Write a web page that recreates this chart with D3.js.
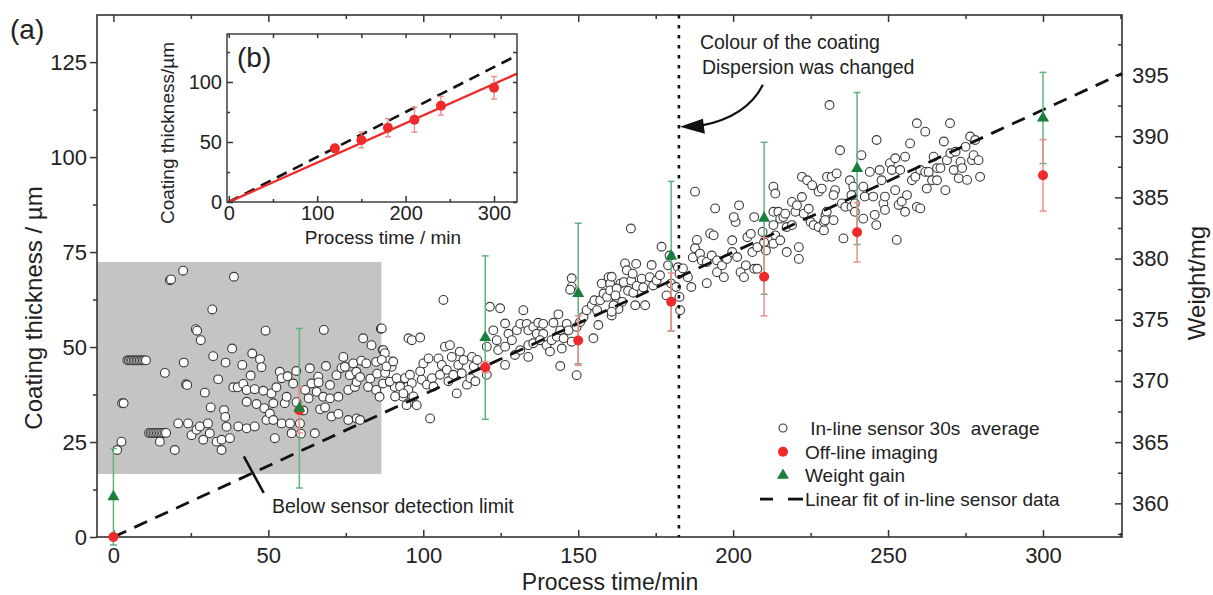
<!DOCTYPE html>
<html>
<head>
<meta charset="utf-8">
<script src="https://cdn.jsdelivr.net/npm/d3@7"></script>
<style>
body{margin:0;background:#fff;}
svg text{font-family:"Liberation Sans",Arial,Helvetica,sans-serif;}
</style>
</head>
<body>
<svg id="chart"></svg>
<script>
// in-line sensor, 30 s averages: [process time (min), coating thickness (um)]
var sensorPoints = [
  [1.2,22.9],[2.6,25.1],[2.8,35.2],[3.3,35.2],
  [4.5,46.5],[5,46.5],[5.5,46.5],[6,46.5],[6.5,46.5],[7,46.5],[7.5,46.5],[8,46.5],[8.5,46.5],[9,46.5],[9.5,46.5],[10,46.5],[10.5,46.5],
  [11.5,27.4],[12,27.4],[12.5,27.4],[13,27.4],[13.5,27.4],[14,27.4],[14.5,27.4],[15,27.4],[15.5,27.4],[16,27.4],[16.5,27.4],[17,27.4],
  [15,25.1],[16.6,43.2],[18.2,67.6],[18.6,67.8],[19.8,22.9],[20.9,29.9],[22.5,70.1],[22.7,45.9],[23.4,40.2],[23.8,40],
  [24.1,29.9],[25.2,26.8],[26.6,54.7],[27,54.3],[26.8,28.2],[27.9,29.1],[28.2,51.8],[29,25.6],[29.5,38],[30.5,29.9],
  [31.1,27.3],[31.4,34.1],[31.9,59.9],[32.2,47.6],[33.3,25.1],[33.8,41.5],[34.9,22.9],[34.9,25.6],[35.7,33.4],[36.1,31.6],
  [36.2,45.9],[36.5,29],[37.6,26],[38.3,49.6],[38.7,39.4],[38.9,68.5],[40.1,39.4],[40.3,29.1],[41.6,45.3],[41.9,40.3],
  [43,38.7],[43,35.6],[43,28.6],[44.3,42.5],[44.8,48.3],[45.6,38.9],[45.6,29.1],[46.2,35],[47.3,46.8],[47.8,44.7],
  [48.4,38.5],[48.7,33.9],[49.1,54.3],[49.4,30.8],[50.5,32.5],[51,37.8],[51.6,35.2],[51.6,30.8],[52.1,26],[52.6,39.4],
  [53.7,43.5],[54.3,41.8],[54.3,29.9],[55.3,35.2],[55.9,36.9],[56.2,42.3],[57,29.9],[57.5,27.3],[58,40.4],[59,43.7],
  [59.1,35.5],[60.2,29.9],[60.5,27.2],[61.3,33.3],[61.9,38.7],[63,36.5],[63.4,44.4],[63.9,40.4],[65,27.3],[65.6,38.2],
  [66.1,42.2],[66.2,40.7],[66.7,33.6],[67.7,36.9],[67.9,54.5],[68.3,34.1],[68.6,45],[69.9,40],[69.9,36.5],[70.4,31.7],
  [72,42.6],[72.6,36.9],[72.6,32.4],[73.6,44.5],[74.2,47.4],[74.7,44.8],[75.8,38.7],[75.8,30.8],[76.3,42.6],[77.4,45.7],
  [77.9,39.5],[78.4,43.5],[78.5,40.8],[78.5,31.2],[79.6,42.1],[79.6,30.8],[80,46.4],[80.6,52.3],[81.6,45.7],[82.2,39.5],
  [82.9,41.7],[83.3,50.5],[84.8,46.1],[84.8,38.7],[85.1,43],[85.9,36.9],[86.3,54.8],[86.9,49.2],[87,40.4],[87.7,43.2],
  [88.2,46.6],[89.2,40.8],[89.8,44.8],[90.8,39.5],[92.5,40.8],[93.5,36.9],[94.1,41.7],[95.1,35.2],[95.2,52.3],
  [86.6,54.9],[87.1,49.2],[87.6,48.4],[86.6,46.6],[88.1,44.9],[90.3,46.2],[89.2,40.9],[91.4,41.8],[92.5,39.6],[94.1,41.8],
  [95.7,42.7],[96.3,40.5],[95.2,38.7],[90.9,37],[93.6,37.8],[96.8,37],[94.6,34.7],[97.9,34.7],[102.2,31.2],[99,43.6],
  [100,45.7],[101.7,47],[99.5,41.4],[101.2,40.1],[102.8,41.8],[103.3,39.6],[104.9,47],[106,45.3],[105.4,42.7],[107,50.1],
  [108.6,50.5],[96.3,51.8],[99,52.5],[106.5,62.4],[107.6,44],[108.1,41],[109.7,42.7],[109.2,47.4],[111.8,48.8],[111.3,45.3],
  [113,46.6],[112.4,43.1],[110.8,37.8],[114.1,40.1],[115.2,41.8],[116.3,44.9],[115.7,47.4],[117.4,46.6],[116.8,41],[120.5,50.1],
  [120.5,42.7],[121.5,60.6],[124.8,60.2],[122.6,54.4],[123.7,51.8],[126.4,56.2],[124.2,49.2],[126.4,45.3],[126.4,50.1],[127.5,53.5],
  [128.6,51.8],[129.6,47.9],[130.2,54.4],[131.3,56.1],[132.3,59.7],[133.4,56.1],[133.9,54.4],[133.9,50.5],[131.3,49.2],[133.9,47.4],
  [135.5,55.3],[135.5,51],[136.6,53.5],[137.1,56.4],[138.7,56.1],[138.7,53.5],[137.7,51.8],[139.8,50.5],[140.9,48.8],[141.4,51.8],
  [142,56.4],[143.6,58.6],[143.1,52.7],[144.2,54.4],[144.7,49.6],[145.3,52.3],[144.2,45],[146.3,56.1],[146.9,54.4],[147.9,68.1],
  [147.9,65.9],[147.4,65.1],[147.9,51.4],[149.5,42.6],[149.5,55.3],[150.6,56.6],[151.7,57.9],[154.9,52.3],[156.5,55.8],[152.7,59.7],
  [154.4,61],[155.2,62.3],[156.1,59.7],[157.1,62.3],[158.2,64.1],[159.3,63.2],[157.6,66.7],[159.8,68.4],[160.3,66.7],[160.3,64.9],
  [161.4,60.5],[160.8,58.3],[163,60],[162.5,62.3],[163.6,66.7],
  [167,81.2],[160.8,68.5],[162.4,65.4],[162,63.6],[161.4,61],[160.8,59.3],[164.2,61.9],[165.1,72],[165.7,70.2],[164.7,67.1],
  [167.1,67.5],[167.6,69.3],[168.7,71.9],[166.1,64.8],[167.8,64.3],[168.9,66.1],[168.4,61],[170.5,68],[171,65.7],[171.6,61],
  [173.7,71.6],[173.1,68.4],[174.2,66.2],[175.3,67.5],[176.4,68.9],[176.9,76.4],[178.5,63.6],[179,71.5],[179.5,74.1],[180,66.7],
  [182.2,71],[182.7,69.3],[183.8,70.7],[181.6,65.8],[182.7,63.2],[182.9,59.7],[185.4,68.4],[186.5,65.8],[187,73.6],[188.3,78.2],
  [187.7,90.9],[187.7,76],[189.3,74.6],[189.9,72.8],[191.5,72.4],[191.5,66.8],[192.6,79.9],[193.7,79.4],[193.1,74.1],[194.8,72.8],
  [194.8,69.7],[196.4,71.5],[197,68.4],[194.2,86.5],[198,73.2],[199.7,75],[199.7,78.1],[200.8,82.9],[200.2,84.2],[201.9,87.3],
  [201.3,73.7],[202.4,69.7],[203.5,68.4],[204.1,71.5],[204.6,78.9],[205.7,79.8],[206.2,75],[206.8,70.6],[207.8,76.3],[207.8,70.6],
  [206.8,84.2],[209.5,80.3],[210,77.6],[210.6,75.4],[213,92.2],[213.6,90.4],[213,85.6],[214.6,85.6],[215.2,83.8],[213,82.1],
  [213.6,79.4],[213,77.2],[215.2,78.1],[216.2,84.2],[216.8,85.1],[217.3,81.6],[217.3,75],[219,82.1],[219,88.2],[220.1,85.6],
  [220.6,87.3],[221.2,76.3],[221.2,73.2],[222.2,89.5],[222.2,94.8],[223.9,93.9],[222.8,85.1],[224.4,86.4],[225,82.9],[226,82.1],
  [225.5,92.6],[227.6,90.9],[227.6,81.6],[229.3,82.9],[229.8,84.6],[230.3,94.8],[229.3,80.7],
  [231.1,113.7],[234.5,101.8],[231.8,94.8],[233.4,95.7],[232.9,91.3],[228.6,91.7],[230.2,85.6],[229.7,83.4],[232.4,83.4],[232.4,90],
  [235.1,87.8],[236.2,86.9],[237.7,93.9],[238.8,92.2],[238.2,90],[238.2,86.9],[239.3,87.8],[239.3,85.6],[241.4,100.5],[242,92.2],
  [242.5,89.6],[242,83.8],[244.1,96.1],[245.2,89.6],[245.7,84.8],[246.2,82.1],[246.3,104.5],[247.3,96.6],[247.9,93.9],[248.5,87.8],
  [249,86.1],[249,89.6],[250.6,98.4],[251.2,96.6],[252.3,99.7],[252.3,91.3],[253.4,87.4],[253.9,96.6],[254.4,88.3],[255.5,100.1],
  [255.5,85.6],[256.1,90],[257.1,103.6],[257.7,93.9],[258.8,94.8],[259.3,86.9],[260.4,86.5],[259.3,108.9],[262,106.7],[260.4,96.6],
  [262,96.1],[263.1,96.1],[262.5,91.7],[264.2,93.9],[264.7,100.1],[265.8,97.1],[266.9,97.1],[265.8,93.9],[268.5,91.3],[268,104.1],
  [270,108.9],[269,99.2],[270.1,101],[271.2,96.6],[271.8,101.4],[272.8,94.4],[273.4,98.8],[273.9,97.1],[275,102.7],[275.5,94],
  [276.5,105.4],[277.1,99.2],[277.6,100.5],[278.1,104.5],[279.2,99.2],[279.7,94.8],[252.8,78.2],[235.6,78.6]
];

// off-line imaging
var offTime  = [0, 60, 120, 150, 180, 210, 240, 300];
var offValue = [0, 33.4, 44.7, 51.7, 61.9, 68.5, 80.2, 95.2];
var offErr   = [0, 6, 1.5, 6.5, 7.6, 10.3, 7.8, 9.4];

// weight gain (plotted against the thickness scale)
var gainTime  = [0, 60, 120, 150, 180, 210, 240, 300];
var gainValue = [10.6, 33.9, 52.5, 64.1, 73.9, 83.9, 97, 110.3];
var gainErr   = [12.7, 21, 21.5, 18.5, 19.7, 20, 20, 12];

// linear fits, end points
var fitLine      = [[0, 0], [325.5, 122]];
var insetFitLine = [[0, 0], [326, 107]];

var changeTime = 182.5;
var detectTime  = [-5.3, 86.5];
var detectThick = [16.6, 72.4];

var xTicks = [0, 50, 100, 150, 200, 250, 300];
var xMinor = [25, 75, 125, 175, 225, 275, 325];
var yTicks = [0, 25, 50, 75, 100, 125];
var yMinor = [12.5, 37.5, 62.5, 87.5, 112.5];
var wTicks = [360, 365, 370, 375, 380, 385, 390, 395];
var wMinor = [357.5, 362.5, 367.5, 372.5, 377.5, 382.5, 387.5, 392.5, 397.5];
var insetXTicks = [0, 100, 200, 300];
var insetXMinor = [50, 150, 250];
var insetYTicks = [0, 50, 100];
var insetYMinor = [25, 75, 125];

var FONT = '"Liberation Sans", Arial, Helvetica, sans-serif';
var INK = "#222";
var RED = "#ee2a2a", RED_ERR = "#f08c8c";
var GREEN = "#1a7f3c", GREEN_ERR = "#62b37c";

var W = 1213, H = 595;
var margin = {top: 15, right: 91, bottom: 58, left: 97},
    width = W - margin.left - margin.right,
    height = H - margin.top - margin.bottom;

var svg = d3.select("#chart").attr("width", W).attr("height", H);
svg.append("rect").attr("width", W).attr("height", H).attr("fill", "#fff");

var g = svg.append("g")
    .attr("transform", "translate(" + margin.left + "," + margin.top + ")");

var x = d3.scaleLinear().domain([-5.3, 325.5]).range([0, width]);
var y = d3.scaleLinear().domain([0, 137.4]).range([height, 0]);
var yw = d3.scaleLinear().domain([357.25, 399.9]).range([height, 0]);

// grey box: below sensor detection limit
g.append("rect")
    .attr("x", x(detectTime[0]))
    .attr("y", y(detectThick[1]))
    .attr("width", x(detectTime[1]) - x(detectTime[0]))
    .attr("height", y(detectThick[0]) - y(detectThick[1]))
    .attr("fill", "#c4c4c4");

// axes
function styleAxis(sel, size){
  sel.select(".domain").remove();
  sel.attr("font-family", FONT).attr("font-size", size);
  sel.selectAll("line").attr("stroke", "#333").attr("stroke-width", 1.5);
  sel.selectAll("text").attr("fill", INK);
  return sel;
}

styleAxis(g.append("g").attr("transform", "translate(0," + height + ")")
    .call(d3.axisBottom(x).tickValues(xTicks).tickSize(-7).tickPadding(10).tickFormat(d3.format("d"))), "22px");
styleAxis(g.append("g").attr("transform", "translate(0," + height + ")")
    .call(d3.axisBottom(x).tickValues(xMinor).tickSize(-4).tickFormat("")), "22px");
styleAxis(g.append("g")
    .call(d3.axisTop(x).tickValues(xTicks).tickSize(-7).tickFormat("")), "22px");
styleAxis(g.append("g")
    .call(d3.axisTop(x).tickValues(xMinor).tickSize(-4).tickFormat("")), "22px");

styleAxis(g.append("g")
    .call(d3.axisLeft(y).tickValues(yTicks).tickSize(7).tickPadding(3).tickFormat(d3.format("d"))), "22px");
styleAxis(g.append("g")
    .call(d3.axisLeft(y).tickValues(yMinor).tickSize(4).tickFormat("")), "22px");

styleAxis(g.append("g").attr("transform", "translate(" + width + ",0)")
    .call(d3.axisRight(yw).tickValues(wTicks).tickSize(-7).tickPadding(10).tickFormat(d3.format("d"))), "22px");
styleAxis(g.append("g").attr("transform", "translate(" + width + ",0)")
    .call(d3.axisRight(yw).tickValues(wMinor).tickSize(-4).tickFormat("")), "22px");

g.append("rect")
    .attr("width", width).attr("height", height)
    .attr("fill", "none").attr("stroke", "#333").attr("stroke-width", 1.6);

// in-line sensor points
g.selectAll("circle.sensor")
    .data(sensorPoints)
    .join("circle")
    .attr("class", "sensor")
    .attr("cx", function(d){ return x(d[0]); })
    .attr("cy", function(d){ return y(d[1]); })
    .attr("r", 4.4)
    .attr("fill", "#fff")
    .attr("stroke", "#3a3a3a")
    .attr("stroke-width", 1.1);

// linear fit
var line = d3.line()
    .x(function(d){ return x(d[0]); })
    .y(function(d){ return y(d[1]); });

g.append("path")
    .datum(fitLine)
    .attr("d", line)
    .attr("fill", "none")
    .attr("stroke", "#111")
    .attr("stroke-width", 2.8)
    .attr("stroke-dasharray", "14,9");

// change of coating colour
g.append("line")
    .attr("x1", x(changeTime)).attr("x2", x(changeTime))
    .attr("y1", 0).attr("y2", height)
    .attr("stroke", "#111")
    .attr("stroke-width", 2.6)
    .attr("stroke-dasharray", "3.5,6.5");

function errorBars(parent, sx, sy, times, vals, errs, color, cap, w){
  var rows = times.map(function(t, i){ return {t: t, v: vals[i], e: errs[i]}; })
                  .filter(function(d){ return d.e > 0; });
  var eb = parent.append("g").attr("stroke", color).attr("stroke-width", w);
  eb.selectAll("line.v").data(rows).join("line").attr("class", "v")
    .attr("x1", function(d){ return sx(d.t); }).attr("x2", function(d){ return sx(d.t); })
    .attr("y1", function(d){ return sy(d.v - d.e); }).attr("y2", function(d){ return sy(d.v + d.e); });
  eb.selectAll("line.top").data(rows).join("line").attr("class", "top")
    .attr("x1", function(d){ return sx(d.t) - cap; }).attr("x2", function(d){ return sx(d.t) + cap; })
    .attr("y1", function(d){ return sy(d.v + d.e); }).attr("y2", function(d){ return sy(d.v + d.e); });
  eb.selectAll("line.bot").data(rows).join("line").attr("class", "bot")
    .attr("x1", function(d){ return sx(d.t) - cap; }).attr("x2", function(d){ return sx(d.t) + cap; })
    .attr("y1", function(d){ return sy(d.v - d.e); }).attr("y2", function(d){ return sy(d.v - d.e); });
}

errorBars(g, x, y, gainTime, gainValue, gainErr, GREEN_ERR, 3.5, 1.5);
errorBars(g, x, y, offTime, offValue, offErr, RED_ERR, 3.5, 1.5);

g.selectAll("circle.off")
    .data(offTime)
    .join("circle")
    .attr("class", "off")
    .attr("cx", function(d){ return x(d); })
    .attr("cy", function(d, i){ return y(offValue[i]); })
    .attr("r", 5)
    .attr("fill", RED);

var tri = d3.symbol().type(d3.symbolTriangle).size(62);
g.selectAll("path.gain")
    .data(gainTime)
    .join("path")
    .attr("class", "gain")
    .attr("d", tri)
    .attr("transform", function(d, i){ return "translate(" + x(d) + "," + y(gainValue[i]) + ")"; })
    .attr("fill", GREEN);

// axis titles and labels
svg.append("text")
    .attr("x", 10).attr("y", 39)
    .attr("font-size", "28px").attr("fill", INK)
    .text("(a)");

svg.append("text")
    .attr("text-anchor", "middle")
    .attr("transform", "translate(42," + (margin.top + height / 2 + 32) + ") rotate(-90)")
    .attr("font-size", "24px").attr("fill", INK)
    .text("Coating thickness / \u00b5m");

svg.append("text")
    .attr("text-anchor", "middle")
    .attr("transform", "translate(1205,283) rotate(-90)")
    .attr("font-size", "24px").attr("fill", INK)
    .text("Weight/mg");

svg.append("text")
    .attr("text-anchor", "middle")
    .attr("x", 610).attr("y", 590)
    .attr("font-size", "23px").attr("fill", INK)
    .text("Process time/min");

// annotations
var ax = margin.left + x(changeTime), ay = margin.top + y(108);
svg.append("text")
    .attr("x", ax + 21).attr("y", 49)
    .attr("font-size", "19.5px").attr("fill", INK)
    .text("Colour of the coating");
svg.append("text")
    .attr("x", ax + 23).attr("y", 74)
    .attr("font-size", "19.5px").attr("fill", INK)
    .text("Dispersion was changed");

svg.append("path")
    .attr("d", "M" + (ax + 84) + "," + (ay - 42) + " Q" + (ax + 68) + "," + (ay - 10) + " " + (ax + 22) + "," + (ay - 1))
    .attr("fill", "none").attr("stroke", "#111").attr("stroke-width", 2.2);
svg.append("path")
    .attr("d", "M" + (ax + 1) + "," + ay + " L" + (ax + 24) + "," + (ay - 8) + " L" + (ax + 26) + "," + (ay + 7) + "Z")
    .attr("fill", "#111");

svg.append("line")
    .attr("x1", margin.left + x(42.1)).attr("y1", margin.top + y(21.2))
    .attr("x2", margin.left + x(48.5)).attr("y2", margin.top + y(11.6))
    .attr("stroke", "#111").attr("stroke-width", 2.5);

svg.append("text")
    .attr("x", 272).attr("y", 513)
    .attr("font-size", "19.5px").attr("fill", INK)
    .text("Below sensor detection limit");

// legend
var legend = svg.append("g").attr("transform", "translate(783,428)");
var rowH = 23.7;

legend.append("circle").attr("cx", 0).attr("cy", 0).attr("r", 4)
    .attr("fill", "#fff").attr("stroke", "#3a3a3a").attr("stroke-width", 1.1);
legend.append("circle").attr("cx", 0).attr("cy", rowH).attr("r", 5).attr("fill", RED);
legend.append("path").attr("d", tri).attr("transform", "translate(0," + (2 * rowH) + ")").attr("fill", GREEN);
legend.append("line").attr("x1", -23).attr("x2", -10).attr("y1", 3 * rowH).attr("y2", 3 * rowH)
    .attr("stroke", "#111").attr("stroke-width", 2.8);
legend.append("line").attr("x1", 5).attr("x2", 20).attr("y1", 3 * rowH).attr("y2", 3 * rowH)
    .attr("stroke", "#111").attr("stroke-width", 2.8);

var legendLabels = [" In-line sensor 30s  average", "Off-line imaging", "Weight gain", "Linear fit of in-line sensor data"];
legend.selectAll("text")
    .data(legendLabels)
    .join("text")
    .attr("x", 22)
    .attr("y", function(d, i){ return i * rowH + 7; })
    .attr("font-size", "19px")
    .attr("fill", INK)
    .style("white-space", "pre")
    .text(function(d){ return d; });

// inset (b)
var inset = {left: 227, top: 34, width: 290, height: 168};
var ig = svg.append("g").attr("transform", "translate(" + inset.left + "," + inset.top + ")");
var ix = d3.scaleLinear().domain([-2, 326]).range([0, inset.width]);
var iy = d3.scaleLinear().domain([0, 140]).range([inset.height, 0]);

ig.append("rect").attr("width", inset.width).attr("height", inset.height).attr("fill", "#fff");

styleAxis(ig.append("g").attr("transform", "translate(0," + inset.height + ")")
    .call(d3.axisBottom(ix).tickValues(insetXTicks).tickSize(-6).tickPadding(4).tickFormat(d3.format("d"))), "20px");
styleAxis(ig.append("g").attr("transform", "translate(0," + inset.height + ")")
    .call(d3.axisBottom(ix).tickValues(insetXMinor).tickSize(-3).tickFormat("")), "20px");
styleAxis(ig.append("g")
    .call(d3.axisTop(ix).tickValues(insetXTicks.concat(insetXMinor)).tickSize(-4).tickFormat("")), "20px");
styleAxis(ig.append("g")
    .call(d3.axisLeft(iy).tickValues(insetYTicks).tickSize(-6).tickPadding(5).tickFormat(d3.format("d"))), "20px");
styleAxis(ig.append("g")
    .call(d3.axisLeft(iy).tickValues(insetYMinor).tickSize(-3).tickFormat("")), "20px");
styleAxis(ig.append("g").attr("transform", "translate(" + inset.width + ",0)")
    .call(d3.axisRight(iy).tickValues(insetYTicks.concat(insetYMinor)).tickSize(-4).tickFormat("")), "20px");

var iline = d3.line()
    .x(function(d){ return ix(d[0]); })
    .y(function(d){ return iy(d[1]); });

ig.append("path").datum(fitLine).attr("d", iline)
    .attr("fill", "none").attr("stroke", "#111").attr("stroke-width", 2.6)
    .attr("stroke-dasharray", "11,7");
ig.append("path").datum(insetFitLine).attr("d", iline)
    .attr("fill", "none").attr("stroke", RED).attr("stroke-width", 2.4);

var insetT = offTime.slice(2), insetV = offValue.slice(2), insetE = offErr.slice(2);
errorBars(ig, ix, iy, insetT, insetV, insetE, RED_ERR, 3, 1.4);
ig.selectAll("circle.off")
    .data(insetT)
    .join("circle")
    .attr("class", "off")
    .attr("cx", function(d){ return ix(d); })
    .attr("cy", function(d, i){ return iy(insetV[i]); })
    .attr("r", 5)
    .attr("fill", RED);

ig.append("rect").attr("width", inset.width).attr("height", inset.height)
    .attr("fill", "none").attr("stroke", "#333").attr("stroke-width", 1.4);

ig.append("text")
    .attr("x", 10).attr("y", 33)
    .attr("font-size", "28px").attr("fill", INK)
    .text("(b)");

svg.append("text")
    .attr("text-anchor", "middle")
    .attr("transform", "translate(174,133) rotate(-90)")
    .attr("font-size", "19px").attr("fill", INK)
    .text("Coating thickness/\u00b5m");

svg.append("text")
    .attr("text-anchor", "middle")
    .attr("x", 383).attr("y", 244)
    .attr("font-size", "19px").attr("fill", INK)
    .text("Process time / min");
</script>
</body>
</html>
